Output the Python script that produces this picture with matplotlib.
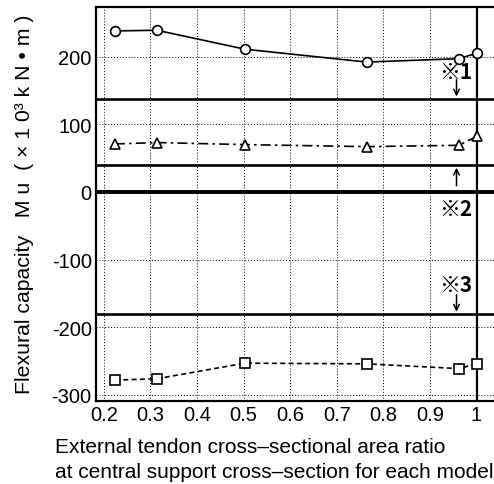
import matplotlib
matplotlib.use("Agg")
import matplotlib.pyplot as plt

plt.rcParams['font.family'] = ['Liberation Sans', 'DejaVu Sans']
plt.rcParams['axes.unicode_minus'] = False

# area ratio of each model
ratio = [0.224, 0.314, 0.503, 0.764, 0.962, 1.0]
# flexural capacity Mu (x10^3 kN m), three cases
mu_case1 = [238, 239, 211, 192, 197, 205]
mu_case2 = [71, 73, 70, 67, 69, 82]
mu_case3 = [-278, -276, -253, -254, -261, -254]
# horizontal reference lines
ref_levels = [137, 40, 0, -181]
xticks = [0.2, 0.3, 0.4, 0.5, 0.6, 0.7, 0.8, 0.9, 1.0]
xticklabels = ['0.2', '0.3', '0.4', '0.5', '0.6', '0.7', '0.8', '0.9', '1']
yticks = [-300, -200, -100, 0, 100, 200]

fig = plt.figure(figsize=(4.94, 4.85), dpi=100)
ax = fig.add_axes([0.194, 0.171, 0.865, 0.812])

ax.plot(ratio, mu_case1, '-', color='black', lw=1.2, marker='o', ms=7,
        mfc='white', mec='black', mew=1.2)
ax.plot(ratio, mu_case2, linestyle=(0, (6, 2.5, 1.5, 2.5)), color='black', lw=1.2,
        marker='^', ms=6.5, mfc='white', mec='black', mew=1.2)
ax.plot(ratio, mu_case3, linestyle=(0, (3, 2)), color='black', lw=1.2,
        marker='s', ms=6.5, mfc='white', mec='black', mew=1.2)

for lv in ref_levels:
    lw = 2.8 if lv == 0 else 1.9
    ax.axhline(lv, color='black', lw=lw, zorder=1)
ax.axvline(1.0, color='black', lw=1.6, zorder=1)

ax.set_xlim(0.183, 1.1)
ax.set_ylim(-309, 273)
ax.set_xticks(xticks)
ax.set_xticklabels(xticklabels)
ax.set_yticks(yticks)
ax.grid(True, linestyle=(0, (1, 2)), color='black', lw=0.7)
ax.tick_params(labelsize=14.5, length=0, pad=3)
for s in ax.spines.values():
    s.set_linewidth(1.6)

# notes with arrows
xa = 0.957
cjk = ['Noto Sans CJK JP', 'DejaVu Sans']
ax.annotate('', xy=(xa, 137), xytext=(xa, 170),
            arrowprops=dict(arrowstyle='->', color='black', lw=1.1))
ax.text(0.99, 178, '※1', ha='right', va='center', fontsize=15,
        fontweight='bold', family=cjk)
ax.annotate('', xy=(xa, 40), xytext=(xa, 5),
            arrowprops=dict(arrowstyle='->', color='black', lw=1.1))
ax.text(0.99, -24, '※2', ha='right', va='center', fontsize=15,
        fontweight='bold', family=cjk)
ax.annotate('', xy=(xa, -181), xytext=(xa, -148),
            arrowprops=dict(arrowstyle='->', color='black', lw=1.1))
ax.text(0.99, -136, '※3', ha='right', va='center', fontsize=15,
        fontweight='bold', family=cjk)

fig.text(0.05, 0.578, 'Flexural capacity   M u  ( × 1 0³ k N • m )',
         rotation=90, ha='center', va='center', fontsize=15.3)
fig.text(0.111, 0.078, 'External tendon cross–sectional area ratio',
         ha='left', va='center', fontsize=15)
fig.text(0.111, 0.025, 'at central support cross–section for each model',
         ha='left', va='center', fontsize=15)

fig.savefig('out.png', dpi=100)
